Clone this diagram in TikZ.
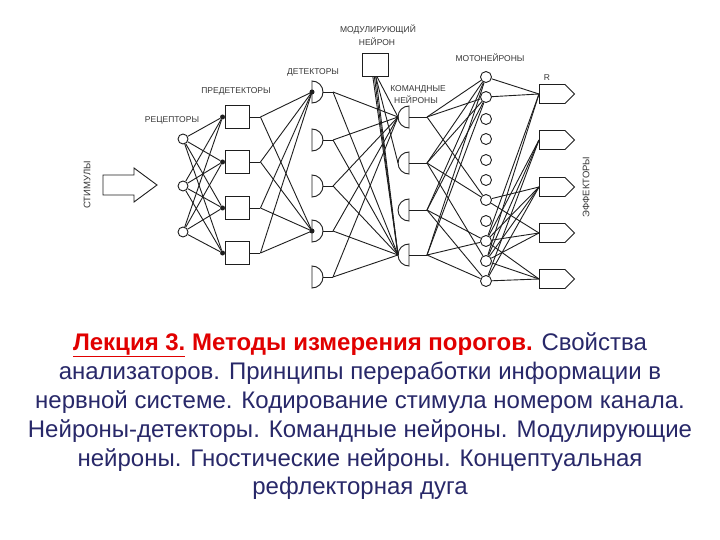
\documentclass[tikz,border=0pt]{standalone}
\usepackage{fontspec}
\setmainfont{Liberation Sans}
\usetikzlibrary{shapes.symbols}
\definecolor{ink}{RGB}{30,30,30}
\definecolor{labelgray}{RGB}{55,55,55}
\definecolor{titlered}{RGB}{225,0,0}
\definecolor{titleblue}{RGB}{40,40,105}
\tikzset{
 fibre/.style={draw=ink,line width=.9pt},
 cell/.style={draw=ink,line width=.9pt,fill=white},
 receptor/.style={circle,cell,minimum size=10,inner sep=0},
 motor/.style={circle,cell,minimum size=11,inner sep=0},
 predet/.style={rectangle,cell,minimum width=24,minimum height=23,inner sep=0},
 modbox/.style={rectangle,cell,minimum width=26,minimum height=23,inner sep=0},
 effector/.style={signal,signal to=east,cell,minimum width=35,minimum height=19,inner sep=0,anchor=west},
 synapse/.style={circle,fill=ink,minimum size=5,inner sep=0},
 layername/.style={font=\fontsize{8.5}{9}\selectfont,text=labelgray,inner sep=0},
 sidename/.style={layername,font=\fontsize{9.5}{10}\selectfont,rotate=90},
 titleline/.style={font=\fontsize{24}{29}\selectfont,text=titleblue,anchor=base,inner sep=0},
 detector/.pic={
  \draw[cell] (0,-11) -- (0,11) arc[start angle=90,end angle=-90,x radius=11,y radius=11] -- cycle;
  \draw[fibre] (11,0) -- (21,0);
  \coordinate (-in) at (0,0);
  \coordinate (-out) at (21,0);
 },
 command/.pic={
  \draw[cell] (0,-11) -- (0,11) arc[start angle=90,end angle=270,x radius=11,y radius=11] -- cycle;
  \draw[fibre] (0,0) -- (18,0);
  \coordinate (-in) at (-11,0);
  \coordinate (-out) at (18,0);
 }
}
\begin{document}
\begin{tikzpicture}[x=1pt,y=-1pt]
\fill[white] (0,0) rectangle (720,540);
\path[use as bounding box] (0,0) rectangle (720,540);
\draw[cell] (103,175) -- (134,175) -- (134,168) -- (157,185) -- (134,202) -- (134,195) -- (103,195) -- cycle;
\node[sidename] (stimname) at (87,185) {СТИМУЛЫ};
\node[receptor] (rc1) at (183,139) {};
\node[receptor] (rc2) at (183,186) {};
\node[receptor] (rc3) at (183,232) {};
\foreach \p/\y in {1/117,2/162,3/208,4/253} {
 \node[predet] (pd\p) at (237,\y) {};
 \node[synapse] (syn\p) at ([xshift=-2pt]pd\p.west) {};
 \draw[fibre] (pd\p.east) -- ++(11,0) coordinate (pdout\p);
}
\foreach \d/\y in {1/92,2/140,3/186,4/231,5/277}
 \pic (det\d) at (312,\y) {detector};
\node[synapse] (dsyn1) at (det1-in) {};
\node[synapse] (dsyn4) at (det4-in) {};
\node[modbox] (mod) at (375,65) {};
\foreach \c/\y in {1/117,2/163,3/210,4/255}
 \pic (cmd\c) at (409,\y) {command};
\foreach \m/\y in {1/77,2/97,3/119,4/139,5/160,6/180,7/200,8/221,9/241,10/261,11/281}
 \node[motor] (mn\m) at (486,\y) {};
\foreach \e/\y in {1/94,2/140,3/187,4/233,5/279}
 \node[effector] (eff\e) at (539,\y) {};
\foreach \r in {1,2,3}
 \foreach \p in {1,...,4}
  \draw[fibre] (rc\r) -- (syn\p);
\foreach \p in {1,...,4}
 \foreach \d in {1,4}
  \draw[fibre] (pdout\p) -- (det\d-in);
\foreach \d in {1,...,5}
 \foreach \c in {1,4}
  \draw[fibre] (det\d-out) -- (cmd\c-in);
\draw[fibre] (mod.-80) -- (cmd1-in);
\draw[fibre] (mod.-86) -- (cmd2-in);
\foreach \a in {-100,-93,-86}
 \draw[fibre] (mod.\a) -- (cmd4-in);
\foreach \c/\m in {1/1,1/2,1/7,2/1,2/2,2/7,2/10,3/1,3/2,3/9,3/11,4/1,4/2,4/9,4/11}
 \draw[fibre] (cmd\c-out) -- (mn\m);
\foreach \m/\e in {1/1,2/1,7/3,7/4,9/1,9/2,9/3,9/4,9/5,10/1,10/2,10/3,10/4,10/5,11/2,11/3,11/5}
 \draw[fibre] (mn\m) -- (eff\e.west);
\node[layername] (rcname) at (172,120) {РЕЦЕПТОРЫ};
\node[layername] (pdname) at (236,91) {ПРЕДЕТЕКТОРЫ};
\node[layername] (detname) at (313,72) {ДЕТЕКТОРЫ};
\node[layername] (modname) at (378,30) {МОДУЛИРУЮЩИЙ};
\node[layername] (modname2) at (377,42) {НЕЙРОН};
\node[layername] (cmdname) at (418,89) {КОМАНДНЫЕ};
\node[layername] (cmdname2) at (416,100) {НЕЙРОНЫ};
\node[layername] (mnname) at (490,58) {МОТОНЕЙРОНЫ};
\node[layername] (rname) at (547,78) {R};
\node[sidename] (effname) at (586,187) {ЭФФЕКТОРЫ};
\node[titleline] (line1) at (360,350) {{\color{titlered}\bfseries\underline{Лекция 3.} Методы измерения порогов.} Свойства};
\node[titleline] (line2) at (360,379) {анализаторов. Принципы переработки информации в};
\node[titleline] (line3) at (360,408) {нервной системе. Кодирование стимула номером канала.};
\node[titleline] (line4) at (360,437) {Нейроны-детекторы. Командные нейроны. Модулирующие};
\node[titleline] (line5) at (360,466) {нейроны. Гностические нейроны. Концептуальная};
\node[titleline] (line6) at (360,494) {рефлекторная дуга};
\end{tikzpicture}
\end{document}
